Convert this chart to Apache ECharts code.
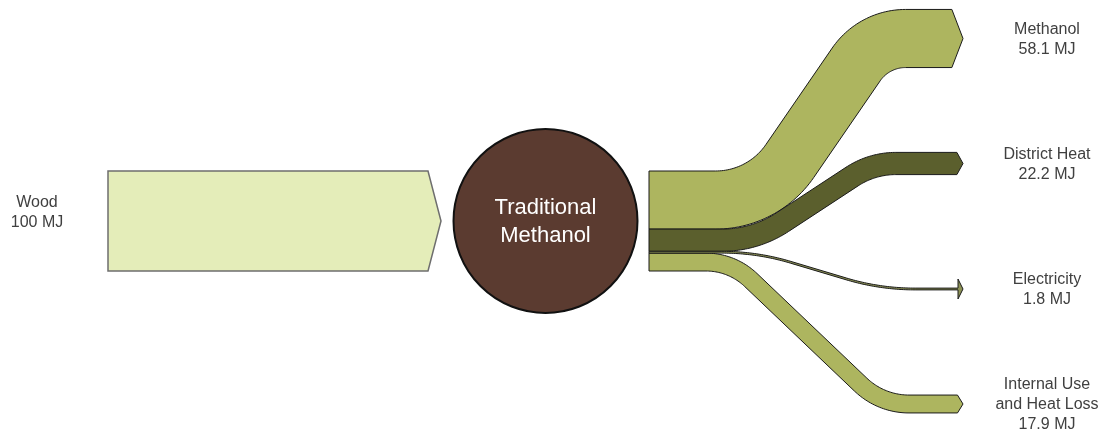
<!DOCTYPE html>
<html>
<head>
<meta charset="utf-8">
<title>Traditional Methanol</title>
<script src="https://cdn.jsdelivr.net/npm/echarts@6/dist/echarts.min.js"></script>
<style>
  html, body { margin: 0; padding: 0; background: #fff; }
  #chart { width: 1105px; height: 434px; }
</style>
</head>
<body>
<div id="chart"></div>
<script>
  // energy balance (MJ)
  const sourceName = 'Wood'
  const sourceValue = 100
  const processName = 'Traditional\nMethanol'
  const outputNames = ['Methanol', 'District Heat', 'Electricity', 'Internal Use\nand Heat Loss']
  const outputValues = [58.1, 22.2, 1.8, 17.9]
  const unit = 'MJ'

  // layout in axis units (1 MJ of band = 1 unit on the y axis)
  const stackTop = 171
  const srcX = [108, 428, 441] // start, body end, tip
  const nodeX = 545.5
  const nodeR = 92
  const outX0 = 649
  const outTipX = 963
  const outEndY = [38.5, 163.5, 289, 404]
  const bendX = [[763, 874], [755, 872], [757, 880], [732, 881]]
  const bendR = [[90, 60], [110, 80], [240, 240], [65, 70]]
  const labelX = [37, 1047]
  const colors = ['#adb55f', '#5b5f2d', '#8d9255', '#adb55f']

  const textStyle = {
    fill: '#404040',
    fontSize: 16,
    fontFamily: 'Liberation Sans, Arial, sans-serif',
    align: 'center',
    verticalAlign: 'middle',
    lineHeight: 20
  }

  // centre line with rounded corners, each sample keeps its heading
  function roundedLine(pts, radii) {
    const out = []
    const a0 = Math.atan2(pts[1][1] - pts[0][1], pts[1][0] - pts[0][0])
    out.push({ x: pts[0][0], y: pts[0][1], h: a0 })
    for (let i = 1; i < pts.length - 1; i++) {
      const p = pts[i]
      const r = radii[i - 1]
      const a1 = Math.atan2(p[1] - pts[i - 1][1], p[0] - pts[i - 1][0])
      const a2 = Math.atan2(pts[i + 1][1] - p[1], pts[i + 1][0] - p[0])
      let turn = a2 - a1
      while (turn > Math.PI) turn -= 2 * Math.PI
      while (turn < -Math.PI) turn += 2 * Math.PI
      const s = turn > 0 ? 1 : -1
      const t = r * Math.tan(Math.abs(turn) / 2)
      const ax = p[0] - Math.cos(a1) * t
      const ay = p[1] - Math.sin(a1) * t
      const cx = ax - Math.sin(a1) * r * s
      const cy = ay + Math.cos(a1) * r * s
      const n = 30
      for (let k = 0; k <= n; k++) {
        const h = a1 + turn * k / n
        out.push({ x: cx + Math.sin(h) * r * s, y: cy - Math.cos(h) * r * s, h: h })
      }
    }
    const last = pts[pts.length - 1]
    const prev = pts[pts.length - 2]
    out.push({ x: last[0], y: last[1], h: Math.atan2(last[1] - prev[1], last[0] - prev[0]) })
    return out
  }

  function renderSource(params, api) {
    const yc = stackTop + sourceValue / 2
    const half = sourceValue / 2
    const pts = [
      [srcX[0], yc - half], [srcX[1], yc - half], [srcX[2], yc],
      [srcX[1], yc + half], [srcX[0], yc + half]
    ].map(p => api.coord(p))
    const lp = api.coord([labelX[0], yc - 8])
    return {
      type: 'group',
      children: [
        {
          type: 'polygon',
          shape: { points: pts },
          style: { fill: '#e4edb9', stroke: '#6e6e6e', lineWidth: 1.5 }
        },
        {
          type: 'text',
          x: lp[0],
          y: lp[1],
          style: Object.assign({ text: sourceName + '\n' + sourceValue + ' ' + unit }, textStyle)
        }
      ]
    }
  }

  function renderNode(params, api) {
    const c = api.coord([nodeX, stackTop + sourceValue / 2])
    const r = api.size([nodeR, 0])[0]
    return {
      type: 'group',
      children: [
        {
          type: 'circle',
          shape: { cx: c[0], cy: c[1], r: r },
          style: { fill: '#5b3b30', stroke: '#111', lineWidth: 2 }
        },
        {
          type: 'text',
          x: c[0],
          y: c[1] + 1,
          style: {
            text: processName,
            fill: '#fff',
            fontSize: 22,
            fontFamily: 'Liberation Sans, Arial, sans-serif',
            align: 'center',
            verticalAlign: 'middle',
            lineHeight: 28
          }
        }
      ]
    }
  }

  function renderFlow(params, api) {
    const i = api.value(0)
    const v = api.value(1)
    let offset = 0
    for (let k = 0; k < i; k++) offset += outputValues[k]
    const y0 = stackTop + offset + v / 2
    const y1 = outEndY[i]
    const tipLen = Math.max(5, Math.min(13, 3 + 0.14 * v))
    const bodyEnd = outTipX - tipLen
    const headHalf = v < 5 ? 10 : v / 2
    const line = roundedLine([[outX0, y0], [bendX[i][0], y0], [bendX[i][1], y1], [bodyEnd, y1]], bendR[i])

    const top = line.map(p => [p.x + Math.sin(p.h) * v / 2, p.y - Math.cos(p.h) * v / 2])
    const bottom = line.map(p => [p.x - Math.sin(p.h) * v / 2, p.y + Math.cos(p.h) * v / 2])
    const head = [
      [bodyEnd, y1 - headHalf], [outTipX, y1], [bodyEnd, y1 + headHalf]
    ]
    const pts = top.concat(head, bottom.reverse()).map(p => api.coord(p))
    const lp = api.coord([labelX[1], y1 + 1])
    return {
      type: 'group',
      children: [
        {
          type: 'polygon',
          shape: { points: pts },
          style: { fill: colors[i], stroke: '#1a1a1a', lineWidth: 1, lineJoin: 'round' }
        },
        {
          type: 'text',
          x: lp[0],
          y: lp[1],
          style: Object.assign({ text: outputNames[i] + '\n' + v + ' ' + unit }, textStyle)
        }
      ]
    }
  }

  const chart = echarts.init(document.getElementById('chart'))
  chart.setOption({
    animation: false,
    grid: { left: 0, right: 0, top: 0, bottom: 0 },
    xAxis: { type: 'value', min: 0, max: 1105, show: false },
    yAxis: { type: 'value', min: 0, max: 434, inverse: true, show: false },
    series: [
      {
        type: 'custom',
        name: 'source',
        silent: true,
        clip: false,
        data: [[0, sourceValue]],
        renderItem: renderSource
      },
      {
        type: 'custom',
        name: 'outputs',
        silent: true,
        clip: false,
        data: [[0, outputValues[0]], [1, outputValues[1]], [3, outputValues[3]], [2, outputValues[2]]],
        renderItem: renderFlow
      },
      {
        type: 'custom',
        name: 'process',
        silent: true,
        clip: false,
        data: [[0]],
        renderItem: renderNode
      }
    ]
  })
</script>
</body>
</html>
